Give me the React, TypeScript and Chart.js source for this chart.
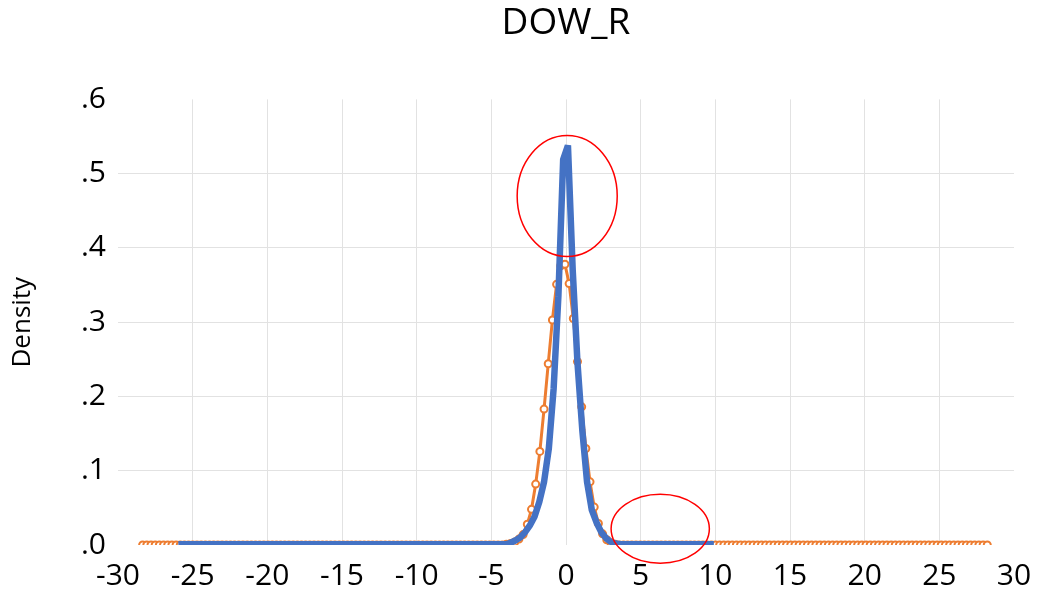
import React, { useEffect, useRef } from 'react';
import { Chart, registerables } from 'chart.js';

Chart.register(...registerables);

const FONT = '"Open Sans", "Noto Sans", sans-serif';

// Title / axis labels
const chartTitle = 'DOW_R';
const yAxisTitle = 'Density';

// Tick settings
const xTickMin = -30;
const xTickMax = 30;
const xTickStep = 5;
const yTickMin = 0;
const yTickMax = 0.6;
const yTickStep = 0.1;

// Orange series (normal density, with markers)
const normalX = [
  -28.35, -28.07, -27.79, -27.51, -27.23, -26.95, -26.67, -26.39, -26.11, -25.83,
  -25.55, -25.27, -24.99, -24.71, -24.43, -24.15, -23.87, -23.59, -23.31, -23.03,
  -22.75, -22.47, -22.19, -21.91, -21.63, -21.35, -21.07, -20.79, -20.51, -20.23,
  -19.95, -19.67, -19.39, -19.11, -18.83, -18.55, -18.27, -17.99, -17.71, -17.43,
  -17.15, -16.87, -16.59, -16.31, -16.03, -15.75, -15.47, -15.19, -14.91, -14.63,
  -14.35, -14.07, -13.79, -13.51, -13.23, -12.95, -12.67, -12.39, -12.11, -11.83,
  -11.55, -11.27, -10.99, -10.71, -10.43, -10.15, -9.87, -9.59, -9.31, -9.03,
  -8.75, -8.47, -8.19, -7.91, -7.63, -7.35, -7.07, -6.79, -6.51, -6.23,
  -5.95, -5.67, -5.39, -5.11, -4.83, -4.55, -4.27, -3.99, -3.71, -3.43,
  -3.15, -2.87, -2.59, -2.31, -2.03, -1.75, -1.47, -1.19, -0.91, -0.63,
  -0.35, -0.07, 0.21, 0.49, 0.77, 1.05, 1.33, 1.61, 1.89, 2.17,
  2.45, 2.73, 3.01, 3.29, 3.57, 3.85, 4.13, 4.41, 4.69, 4.97,
  5.25, 5.53, 5.81, 6.09, 6.37, 6.65, 6.93, 7.21, 7.49, 7.77,
  8.05, 8.33, 8.61, 8.89, 9.17, 9.45, 9.73, 10.01, 10.29, 10.57,
  10.85, 11.13, 11.41, 11.69, 11.97, 12.25, 12.53, 12.81, 13.09, 13.37,
  13.65, 13.93, 14.21, 14.49, 14.77, 15.05, 15.33, 15.61, 15.89, 16.17,
  16.45, 16.73, 17.01, 17.29, 17.57, 17.85, 18.13, 18.41, 18.69, 18.97,
  19.25, 19.53, 19.81, 20.09, 20.37, 20.65, 20.93, 21.21, 21.49, 21.77,
  22.05, 22.33, 22.61, 22.89, 23.17, 23.45, 23.73, 24.01, 24.29, 24.57,
  24.85, 25.13, 25.41, 25.69, 25.97, 26.25, 26.53, 26.81, 27.09, 27.37,
  27.65, 27.93, 28.21,
];
const normalY = [
  0, 0, 0, 0, 0, 0, 0, 0, 0, 0,
  0, 0, 0, 0, 0, 0, 0, 0, 0, 0,
  0, 0, 0, 0, 0, 0, 0, 0, 0, 0,
  0, 0, 0, 0, 0, 0, 0, 0, 0, 0,
  0, 0, 0, 0, 0, 0, 0, 0, 0, 0,
  0, 0, 0, 0, 0, 0, 0, 0, 0, 0,
  0, 0, 0, 0, 0, 0, 0, 0, 0, 0,
  0, 0, 0, 0, 0, 0, 0, 0, 0, 0,
  0, 0, 0, 0, 0, 0, 0, 0.001, 0.002, 0.004,
  0.008, 0.014, 0.028, 0.048, 0.082, 0.126, 0.183, 0.244, 0.303, 0.351,
  0.376, 0.378, 0.352, 0.305, 0.247, 0.186, 0.130, 0.085, 0.051, 0.029,
  0.015, 0.007, 0.003, 0.001, 0, 0, 0, 0, 0, 0,
  0, 0, 0, 0, 0, 0, 0, 0, 0, 0,
  0, 0, 0, 0, 0, 0, 0, 0, 0, 0,
  0, 0, 0, 0, 0, 0, 0, 0, 0, 0,
  0, 0, 0, 0, 0, 0, 0, 0, 0, 0,
  0, 0, 0, 0, 0, 0, 0, 0, 0, 0,
  0, 0, 0, 0, 0, 0, 0, 0, 0, 0,
  0, 0, 0, 0, 0, 0, 0, 0, 0, 0,
  0, 0, 0, 0, 0, 0, 0, 0, 0, 0,
  0, 0, 0,
];

// Blue series (empirical density)
const kernelX = [
  -25.96, -20, -15, -10, -6, -4.35, -4.03, -3.71, -3.39, -3.07,
  -2.75, -2.43, -2.11, -1.79, -1.47, -1.15, -0.83, -0.51, -0.19, 0.13,
  0.45, 0.77, 1.09, 1.41, 1.73, 2.05, 2.37, 2.69, 3.01, 3.33,
  3.65, 3.97, 5, 7, 9.9,
];
const kernelY = [
  0.001, 0.001, 0.001, 0.001, 0.001, 0.001, 0.001, 0.003, 0.006, 0.010,
  0.017, 0.026, 0.038, 0.058, 0.085, 0.130, 0.210, 0.335, 0.519, 0.538,
  0.370, 0.245, 0.155, 0.085, 0.047, 0.030, 0.017, 0.009, 0.004, 0.002,
  0.001, 0.001, 0.001, 0.001, 0.001,
];

// Red highlight ellipses (data units)
const ellipseCX = [0.08, 6.31];
const ellipseCY = [0.47, 0.0218];
const ellipseRX = [3.35, 3.29];
const ellipseRY = [0.0815, 0.0465];

const ellipsePlugin = {
  id: 'highlightEllipses',
  afterDatasetsDraw(chart: any) {
    const { ctx, scales } = chart;
    const xs = scales.x;
    const ys = scales.y;
    ctx.save();
    ctx.strokeStyle = '#FF0000';
    ctx.lineWidth = 1.5;
    ellipseCX.forEach((cx, i) => {
      const px = xs.getPixelForValue(cx);
      const py = ys.getPixelForValue(ellipseCY[i]);
      const rx = Math.abs(xs.getPixelForValue(cx + ellipseRX[i]) - px);
      const ry = Math.abs(ys.getPixelForValue(ellipseCY[i] + ellipseRY[i]) - py);
      ctx.beginPath();
      ctx.ellipse(px, py, rx, ry, 0, 0, Math.PI * 2);
      ctx.stroke();
    });
    ctx.restore();
  },
};

const GRID = '#e2e2e2';
const CLEAR = 'rgba(0,0,0,0)';

export default function App() {
  const canvasRef = useRef<HTMLCanvasElement | null>(null);

  useEffect(() => {
    if (!canvasRef.current) return;
    const orangeData = normalX.map((x, i) => ({ x, y: normalY[i] }));
    const blueData = kernelX.map((x, i) => ({ x, y: kernelY[i] }));

    const chart = new Chart(canvasRef.current, {
      type: 'scatter',
      data: {
        datasets: [
          {
            label: 'Kernel',
            data: blueData,
            showLine: true,
            borderColor: '#4472C4',
            backgroundColor: '#4472C4',
            borderWidth: 6.5,
            borderJoinStyle: 'bevel',
            pointRadius: 0,
            tension: 0,
            order: 0,
          },
          {
            label: 'Normal',
            data: orangeData,
            showLine: true,
            borderColor: '#ED7D31',
            backgroundColor: '#FFFFFF',
            borderWidth: 3,
            pointRadius: 3.5,
            pointBorderWidth: 2,
            pointBorderColor: '#ED7D31',
            pointBackgroundColor: '#FFFFFF',
            tension: 0,
            order: 1,
          },
        ],
      },
      options: {
        animation: false,
        responsive: true,
        maintainAspectRatio: false,
        layout: { padding: { left: 0, right: 26, top: 0, bottom: 0 } },
        plugins: {
          legend: { display: false },
          tooltip: { enabled: false },
          title: {
            display: true,
            text: chartTitle,
            color: '#000000',
            fullSize: false,
            font: { family: FONT, size: 37, weight: 'normal' },
            padding: { top: 1, bottom: 54 },
          },
        },
        scales: {
          x: {
            type: 'linear',
            min: xTickMin,
            max: xTickMax,
            border: { display: false },
            grid: {
              drawTicks: false,
              lineWidth: 1,
              color: (c: any) =>
                c.tick && (c.tick.value === xTickMin || c.tick.value === xTickMax) ? CLEAR : GRID,
            },
            ticks: {
              stepSize: xTickStep,
              color: '#000000',
              font: { family: FONT, size: 30 },
              padding: 13,
              maxRotation: 0,
              autoSkip: false,
              callback: (v: any) => String(v),
            },
            afterFit: (s: any) => {
              s.height = 55;
              s.paddingLeft = 0;
              s.paddingRight = 0;
            },
          },
          y: {
            min: yTickMin,
            max: yTickMax,
            border: { display: false },
            grid: {
              drawTicks: false,
              lineWidth: 1,
              color: (c: any) =>
                c.tick && (Math.abs(c.tick.value - yTickMin) < 1e-9 || Math.abs(c.tick.value - yTickMax) < 1e-9)
                  ? CLEAR
                  : GRID,
            },
            ticks: {
              stepSize: yTickStep,
              color: '#000000',
              font: { family: FONT, size: 30 },
              padding: 12,
              callback: (v: any) => Number(v).toFixed(1).replace(/^0/, ''),
            },
            title: {
              display: true,
              text: yAxisTitle,
              color: '#000000',
              font: { family: FONT, size: 26 },
              padding: { top: 7, bottom: 0 },
            },
            afterFit: (s: any) => {
              s.width = 118;
            },
          },
        },
      },
      plugins: [ellipsePlugin],
    });

    return () => chart.destroy();
  }, []);

  return (
    <div style={{ position: 'absolute', left: 0, top: 0, width: 1040, height: 600, background: '#FFFFFF' }}>
      <canvas ref={canvasRef} />
    </div>
  );
}
